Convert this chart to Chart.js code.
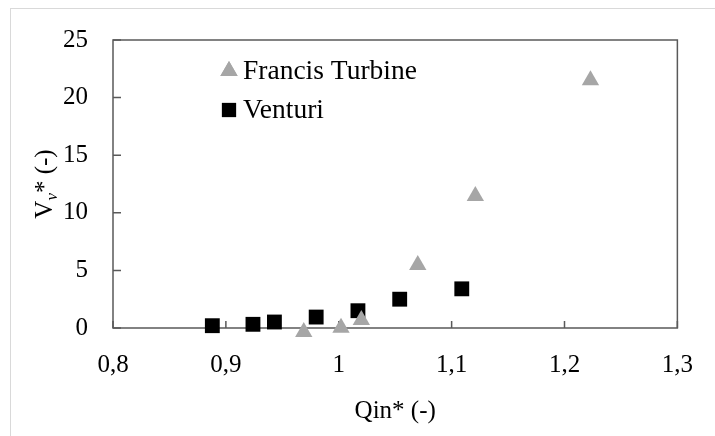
<!DOCTYPE html>
<html>
<head>
<meta charset="utf-8">
<script src="https://cdn.jsdelivr.net/npm/chart.js@4"></script>
<style>
  html, body { margin: 0; padding: 0; background: #fff; }
  #wrap { width: 715px; height: 436px; }
</style>
</head>
<body>
<div id="wrap"><canvas id="chart" width="715" height="436"></canvas></div>
<script>
// values
const francisQ = [0.969, 1.002, 1.020, 1.070, 1.121, 1.223];
const francisV = [-0.35, 0.03, 0.69, 5.47, 11.46, 21.5];
const venturiQ = [0.888, 0.924, 0.943, 0.980, 1.017, 1.054, 1.109];
const venturiV = [0.2, 0.32, 0.52, 0.95, 1.5, 2.5, 3.4];
const xTicks = [0.8, 0.9, 1.0, 1.1, 1.2, 1.3];
const yTicks = [0, 5, 10, 15, 20, 25];
const seriesNames = ['Francis Turbine', 'Venturi'];

const FONT = '"Liberation Serif", "DejaVu Serif", serif';
const AXIS = '#595959';

function toPoints(xs, ys) {
  return xs.map((x, i) => ({ x: x, y: ys[i] }));
}

function fmt(v) {
  return String(Math.round(v * 10) / 10).replace('.', ',');
}

// frame, plot box and inward ticks
const boxPlugin = {
  id: 'box',
  beforeDraw(chart) {
    const ctx = chart.ctx;
    ctx.save();
    ctx.fillStyle = '#fff';
    ctx.fillRect(0, 0, chart.width, chart.height);
    ctx.strokeStyle = '#d9d9d9';
    ctx.lineWidth = 1;
    ctx.strokeRect(10.5, 8.5, 900, 900);
    ctx.restore();
  },
  beforeDatasetsDraw(chart) {
    const ctx = chart.ctx;
    const a = chart.chartArea;
    const xs = chart.scales.x, ys = chart.scales.y;
    ctx.save();
    ctx.strokeStyle = AXIS;
    ctx.lineWidth = 1.5;
    ctx.strokeRect(a.left, a.top, a.right - a.left, a.bottom - a.top);
    ctx.beginPath();
    xs.ticks.forEach(t => {
      const px = xs.getPixelForValue(t.value);
      ctx.moveTo(px, a.bottom);
      ctx.lineTo(px, a.bottom - 7);
    });
    ys.ticks.forEach(t => {
      const py = ys.getPixelForValue(t.value);
      ctx.moveTo(a.left, py);
      ctx.lineTo(a.left + 8, py);
    });
    ctx.stroke();
    ctx.restore();
  },
  afterDraw(chart) {
    const ctx = chart.ctx;
    const a = chart.chartArea;
    ctx.save();
    ctx.fillStyle = '#000';
    // x title
    ctx.font = '25px ' + FONT;
    ctx.textAlign = 'center';
    ctx.textBaseline = 'alphabetic';
    ctx.fillText('Qin* (-)', (a.left + a.right) / 2, 418);

    // y title, V with subscript v
    ctx.translate(52, (a.top + a.bottom) / 2);
    ctx.rotate(-Math.PI / 2);
    ctx.textAlign = 'left';
    const big = '25px ' + FONT, small = 'italic 17px ' + FONT;
    ctx.font = big;
    const wV = ctx.measureText('V').width;
    const wRest = ctx.measureText('* (-)').width;
    ctx.font = small;
    const wSub = ctx.measureText('v').width;
    let x = -(wV + wSub + wRest) / 2;
    ctx.font = big;
    ctx.fillText('V', x, 0);
    x += wV;
    ctx.font = small;
    ctx.fillText('v', x, 5);
    x += wSub;
    ctx.font = big;
    ctx.fillText('* (-)', x, 0);
    ctx.restore();

    // legend inside plot
    ctx.save();
    const rows = [71, 110];
    chart.data.datasets.forEach((ds, i) => {
      Chart.helpers.drawPoint(ctx, {
        pointStyle: ds.pointStyle,
        radius: 10,
        rotation: 0,
        borderWidth: 0
      }, 229, rows[i]);
      ctx.fillStyle = ds.backgroundColor;
      ctx.fill();
      ctx.fillStyle = '#000';
      ctx.font = '27.5px ' + FONT;
      ctx.textAlign = 'left';
      ctx.textBaseline = 'middle';
      ctx.fillText(ds.label, 243, rows[i] + 1);
    });
    ctx.restore();
  }
};

new Chart(document.getElementById('chart').getContext('2d'), {
  type: 'scatter',
  data: {
    datasets: [
      {
        label: seriesNames[0],
        data: toPoints(francisQ, francisV),
        pointStyle: 'triangle',
        pointRadius: 10,
        backgroundColor: '#a6a6a6',
        borderColor: '#a6a6a6',
        borderWidth: 0,
        clip: false
      },
      {
        label: seriesNames[1],
        data: toPoints(venturiQ, venturiV),
        pointStyle: 'rect',
        pointRadius: 10.5,
        backgroundColor: '#000000',
        borderColor: '#000000',
        borderWidth: 0,
        clip: false
      }
    ]
  },
  options: {
    responsive: false,
    animation: false,
    events: [],
    layout: { padding: { left: 0, top: 40, right: 35, bottom: 0 } },
    plugins: {
      legend: { display: false },
      tooltip: { enabled: false }
    },
    scales: {
      x: {
        type: 'linear',
        min: xTicks[0],
        max: xTicks[xTicks.length - 1],
        afterBuildTicks: s => { s.ticks = xTicks.map(v => ({ value: v })); },
        afterFit: s => { s.height = 108; },
        grid: { display: false, drawTicks: false },
        border: { display: false },
        ticks: {
          padding: 22,
          color: '#000',
          font: { family: FONT, size: 25 },
          maxRotation: 0,
          callback: v => fmt(v)
        }
      },
      y: {
        type: 'linear',
        min: yTicks[0],
        max: yTicks[yTicks.length - 1],
        afterBuildTicks: s => { s.ticks = yTicks.map(v => ({ value: v })); },
        afterFit: s => { s.width = 113; },
        grid: { display: false, drawTicks: false },
        border: { display: false },
        ticks: {
          padding: 25,
          color: '#000',
          font: { family: FONT, size: 25 },
          callback: v => fmt(v)
        }
      }
    }
  },
  plugins: [boxPlugin]
});
</script>
</body>
</html>
